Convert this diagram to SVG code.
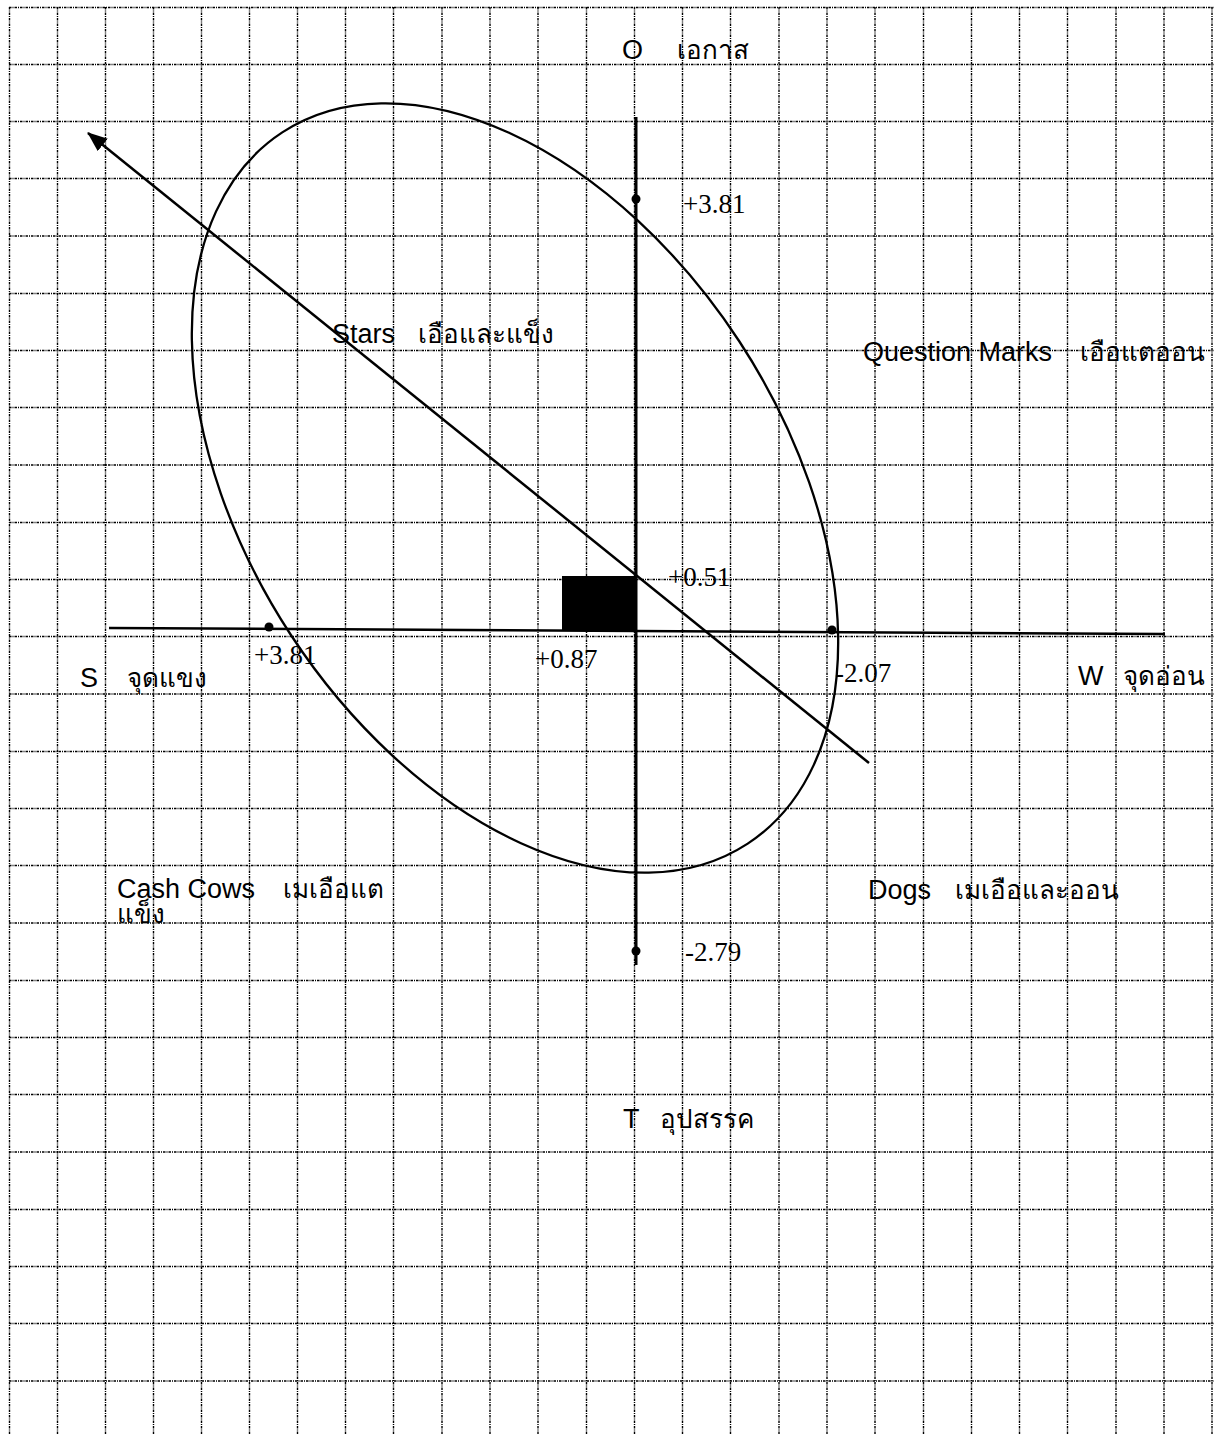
<svg xmlns="http://www.w3.org/2000/svg" width="1214" height="1434" viewBox="0 0 1214 1434">
<style>
.grid{stroke:#000;stroke-width:1.4;stroke-dasharray:2.5 1 1 1;fill:none}
.ax{stroke:#000;fill:none}
.sans{font-family:"Liberation Sans",Arial,sans-serif;font-size:27px;fill:#000}
.thai{font-family:"Liberation Sans","Noto Sans",sans-serif;font-size:26px;fill:#000}
.num{font-family:"Liberation Serif","Times New Roman",serif;font-size:27px;fill:#000}
</style>
<defs>
<marker id="arr" viewBox="0 0 20 16" refX="19" refY="8" markerWidth="20" markerHeight="16" markerUnits="userSpaceOnUse" orient="auto">
<path d="M0,0 L20,8 L0,16 Z" fill="#000"/>
</marker>
</defs>
<rect width="1214" height="1434" fill="#fff"/>
<g id="grid">
<path class="grid" d="M9.5,7V1434M57.5,7V1434M105.5,7V1434M153.5,7V1434M201.5,7V1434M249.5,7V1434M297.5,7V1434M345.5,7V1434M393.5,7V1434M442,7V1434M490,7V1434M538,7V1434M586.5,7V1434M634.5,7V1434M682.5,7V1434M730.5,7V1434M779,7V1434M827,7V1434M875,7V1434M923.5,7V1434M971.5,7V1434M1019.5,7V1434M1067.5,7V1434M1116,7V1434M1164,7V1434M1212,7V1434"/>
<path class="grid" d="M9,7.5H1214M9,64.5H1214M9,121.5H1214M9,178.5H1214M9,236H1214M9,293.5H1214M9,350.5H1214M9,407.5H1214M9,465H1214M9,522.5H1214M9,579.5H1214M9,636.5H1214M9,694H1214M9,751.5H1214M9,808.5H1214M9,865.5H1214M9,923H1214M9,980.5H1214M9,1037.5H1214M9,1094.5H1214M9,1152H1214M9,1209.5H1214M9,1266.5H1214M9,1323.5H1214M9,1381H1214"/>
</g>
<g id="connectors">
<line class="ax" x1="636" y1="117" x2="636" y2="965" stroke-width="3"/>
<line class="ax" x1="109" y1="628" x2="1165" y2="634" stroke-width="2.5"/>
<rect id="marker-box" x="562" y="576" width="74" height="55" fill="#000"/>
<ellipse class="ax" cx="515" cy="488" rx="425" ry="268" transform="rotate(56.8 515 488)" stroke-width="2.3"/>
<line class="ax" x1="869" y1="763" x2="88" y2="133" stroke-width="2.5" marker-end="url(#arr)"/>
<circle cx="636" cy="199" r="4.5" fill="#000"/>
<circle cx="636" cy="951" r="4.5" fill="#000"/>
<circle cx="269" cy="627" r="4.5" fill="#000"/>
<circle cx="832" cy="630" r="4.5" fill="#000"/>
</g>
<g id="label-O"><text class="sans" x="622" y="59">O</text><text class="thai" x="677" y="59">เอกาส</text></g>
<g id="label-T"><text class="sans" x="623" y="1128">T</text><text class="thai" x="660" y="1128">อุปสรรค</text></g>
<g id="label-S"><text class="sans" x="80" y="687">S</text><text class="thai" x="127" y="687">จุดแขง</text></g>
<g id="label-W"><text class="sans" x="1078" y="685">W</text><text class="thai" x="1123" y="685">จุดอ่อน</text></g>
<g id="label-stars"><text class="sans" x="332" y="343">Stars</text><text class="thai" x="418" y="343">เอือและแข็ง</text></g>
<g id="label-qm"><text class="sans" x="863" y="361">Question Marks</text><text class="thai" x="1080" y="361">เอือแตออน</text></g>
<g id="label-cash"><text class="sans" x="117" y="898">Cash Cows</text><text class="thai" x="283" y="898">เมเอือแต</text><text class="thai" x="117" y="923">แข็ง</text></g>
<g id="label-dogs"><text class="sans" x="868" y="899">Dogs</text><text class="thai" x="955" y="899">เมเอือและออน</text></g>
<g id="values">
<text class="num" x="683" y="213">+3.81</text>
<text class="num" x="668" y="586">+0.51</text>
<text class="num" x="535" y="668">+0.87</text>
<text class="num" x="254" y="664">+3.81</text>
<text class="num" x="835" y="682">-2.07</text>
<text class="num" x="685" y="961">-2.79</text>
</g>
</svg>
